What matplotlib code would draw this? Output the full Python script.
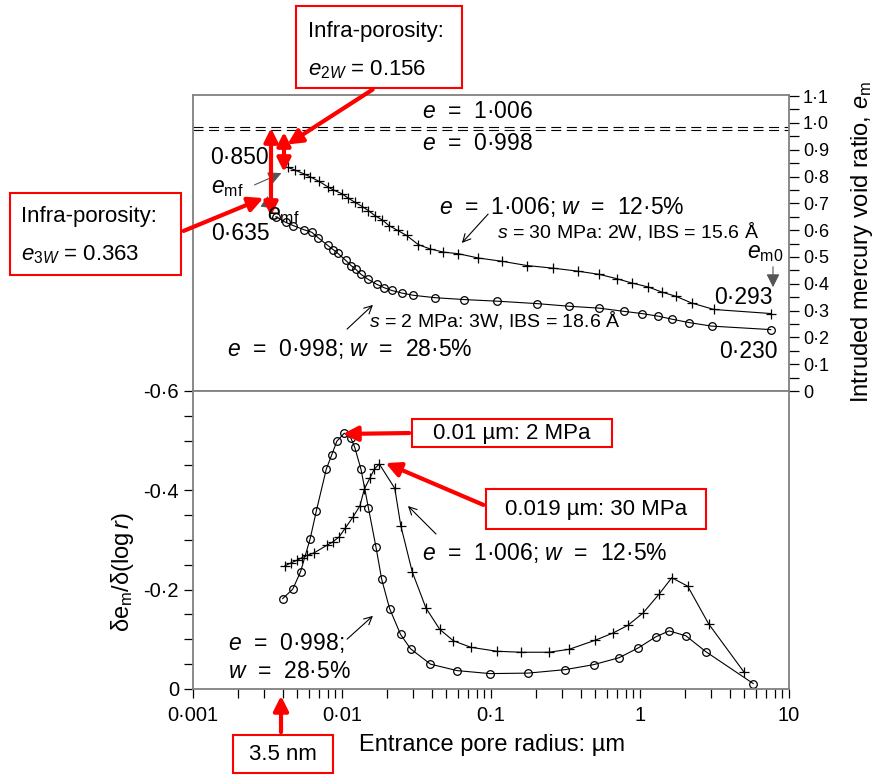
import matplotlib
matplotlib.use('Agg')
import matplotlib.pyplot as plt
from matplotlib.ticker import FixedLocator, FixedFormatter, LogLocator, NullFormatter, MultipleLocator
from matplotlib.patches import Rectangle

plt.rcParams['font.family'] = ['Liberation Sans', 'DejaVu Sans']
plt.rcParams['mathtext.fontset'] = 'custom'
plt.rcParams['mathtext.rm'] = 'Liberation Sans'
plt.rcParams['mathtext.it'] = 'Liberation Sans:italic'

# ---- data ----
# top panel: intruded mercury void ratio
r_30mpa = [0.00433, 0.00484, 0.00559, 0.00610, 0.00701, 0.00801, 0.00874, 0.01005, 0.01102,
           0.01222, 0.01368, 0.01502, 0.01665, 0.01862, 0.02065, 0.02363, 0.02716, 0.0325,
           0.039, 0.0479, 0.0604, 0.0822, 0.118, 0.174, 0.262, 0.382, 0.533, 0.697, 0.879,
           1.137, 1.40, 1.746, 2.225, 3.14, 7.54]
em_30mpa = [0.834, 0.824, 0.809, 0.799, 0.782, 0.762, 0.750, 0.735, 0.719, 0.704, 0.688,
            0.673, 0.654, 0.638, 0.617, 0.599, 0.580, 0.546, 0.530, 0.518, 0.512, 0.496,
            0.484, 0.468, 0.458, 0.447, 0.435, 0.419, 0.403, 0.388, 0.369, 0.353, 0.328,
            0.304, 0.289]
r_2mpa = [0.0036, 0.00419, 0.00471, 0.00559, 0.00627, 0.00694, 0.00802, 0.00874, 0.00936,
          0.0106, 0.01149, 0.01236, 0.01342, 0.01502, 0.0171, 0.01923, 0.02154, 0.02539,
          0.03009, 0.0421, 0.0662, 0.110, 0.203, 0.336, 0.533, 0.781, 1.026, 1.327, 1.633,
          2.145, 3.03, 7.54]
em_2mpa = [0.650, 0.629, 0.617, 0.601, 0.592, 0.571, 0.543, 0.527, 0.514, 0.487, 0.468,
           0.454, 0.435, 0.416, 0.398, 0.385, 0.375, 0.365, 0.357, 0.348, 0.341, 0.335,
           0.326, 0.316, 0.309, 0.297, 0.289, 0.279, 0.268, 0.255, 0.242, 0.229]
e_hi_line = 0.985   # drawn for e = 1.006
e_lo_line = 0.974   # drawn for e = 0.998

# bottom panel: pore size density
rd_2mpa = [0.0040, 0.00467, 0.00527, 0.00612, 0.00673, 0.00785, 0.00852, 0.00924, 0.01035,
           0.01148, 0.01216, 0.01342, 0.01503, 0.01692, 0.01846, 0.02086, 0.02471, 0.02884,
           0.03926, 0.0593, 0.0986, 0.178, 0.315, 0.488, 0.724, 0.977, 1.276, 1.570, 2.035,
           2.77, 5.75]
d_2mpa = [-0.182, -0.201, -0.236, -0.303, -0.359, -0.443, -0.471, -0.499, -0.515, -0.505,
          -0.487, -0.442, -0.365, -0.285, -0.221, -0.162, -0.110, -0.081, -0.050, -0.037,
          -0.031, -0.032, -0.039, -0.049, -0.063, -0.083, -0.105, -0.117, -0.107, -0.075,
          -0.011]
rd_30mpa = [0.00414, 0.00455, 0.00497, 0.00535, 0.00583, 0.00648, 0.00789, 0.00866, 0.00955,
            0.01052, 0.0119, 0.0132, 0.0141, 0.0154, 0.0165, 0.0178, 0.0226, 0.0248, 0.0296,
            0.0366, 0.0453, 0.0560, 0.0731, 0.1096, 0.159, 0.245, 0.335, 0.499, 0.662, 0.827,
            1.048, 1.343, 1.634, 2.09, 2.89, 4.99]
d_30mpa = [-0.248, -0.254, -0.259, -0.264, -0.269, -0.274, -0.289, -0.296, -0.306, -0.324,
           -0.347, -0.369, -0.402, -0.425, -0.443, -0.453, -0.404, -0.329, -0.236, -0.163,
           -0.120, -0.097, -0.084, -0.076, -0.074, -0.074, -0.080, -0.098, -0.113, -0.128,
           -0.153, -0.191, -0.224, -0.207, -0.131, -0.034]

x_ticks = [0.001, 0.01, 0.1, 1, 10]
x_labels = ['0·001', '0·01', '0·1', '1', '10']
top_ticks = [i / 10 for i in range(12)]
top_labels = ['0'] + ['0·%d' % i for i in range(1, 10)] + ['1·0', '1·1']
bot_ticks = [-0.6, -0.4, -0.2, 0]
bot_labels = ['-0·6', '-0·4', '-0·2', '0']

W, H = 880, 778
fig = plt.figure(figsize=(W / 100, H / 100), dpi=100)


def fp(x, y):
    # figure pixel (from top-left) -> figure fraction
    return (x / W, 1 - y / H)


spine_col = '#808080'
ax1 = fig.add_axes([193 / W, 1 - 391 / H, 596 / W, 296 / H])
ax2 = fig.add_axes([193 / W, 1 - 689 / H, 596 / W, 298 / H])

for ax in (ax1, ax2):
    ax.set_xscale('log')
    ax.set_xlim(0.001, 10)
    for s in ax.spines.values():
        s.set_color(spine_col)
        s.set_linewidth(1.3)

line_kw = dict(color='k', lw=0.8)
ax1.plot(r_30mpa, em_30mpa, marker='+', ms=7, mew=0.9, **line_kw)
ax1.plot(r_2mpa, em_2mpa, marker='o', ms=5.5, mfc='none', mec='k', mew=0.9, **line_kw)
ax1.axhline(e_hi_line, color='k', lw=0.8, ls=(0, (9, 5)))
ax1.axhline(e_lo_line, color='k', lw=0.8, ls=(0, (9, 5)))
ax1.set_ylim(0, 1.104)
ax1.set_xticks([])
ax1.minorticks_off()
ax1.tick_params(axis='x', which='both', bottom=False, labelbottom=False)
ax1.yaxis.tick_right()
ax1.yaxis.set_major_locator(FixedLocator(top_ticks))
ax1.yaxis.set_major_formatter(FixedFormatter(top_labels))
ax1.yaxis.set_minor_locator(MultipleLocator(0.05))
ax1.tick_params(axis='y', which='major', length=7, width=0.9, labelsize=13, pad=3)
ax1.tick_params(axis='y', which='minor', length=7, width=0.9)

ax2.plot(rd_30mpa, d_30mpa, marker='+', ms=7, mew=0.9, **line_kw)
ax2.plot(rd_2mpa, d_2mpa, marker='o', ms=5.5, mfc='none', mec='k', mew=0.9, **line_kw)
ax2.set_ylim(0, -0.6)
ax2.xaxis.set_major_locator(FixedLocator(x_ticks))
ax2.xaxis.set_major_formatter(FixedFormatter(x_labels))
ax2.xaxis.set_minor_locator(LogLocator(base=10, subs=range(2, 10)))
ax2.xaxis.set_minor_formatter(NullFormatter())
ax2.yaxis.set_major_locator(FixedLocator(bot_ticks))
ax2.yaxis.set_major_formatter(FixedFormatter(bot_labels))
ax2.yaxis.set_minor_locator(MultipleLocator(0.05))
ax2.tick_params(axis='both', which='both', length=6.5, width=0.9, labelsize=14.5)
ax2.tick_params(axis='x', pad=6)

# axis titles
fig.text(*fp(492, 745), 'Entrance pore radius: µm', ha='center', va='center', fontsize=17)
fig.text(*fp(862, 242), 'Intruded mercury void ratio, $e_{\\mathrm{m}}$', ha='center',
         va='center', rotation=90, fontsize=17)
fig.text(*fp(122, 572), 'δe$_{\\mathrm{m}}$/δ(log$\\,r$)', ha='center', va='center',
         rotation=90, fontsize=17)

# ---- black labels ----
big, small = 16.5, 14


def lab(x, y, s, size=big, ha='center', **kw):
    fig.text(*fp(x, y), s, ha=ha, va='center', fontsize=size, **kw)


def thin_arrow(ax, x0, y0, x1, y1, col='k'):
    ax.annotate('', xy=fp(x1, y1), xycoords='figure fraction', xytext=fp(x0, y0),
                textcoords='figure fraction', annotation_clip=False,
                arrowprops=dict(arrowstyle='->', color=col, lw=0.8, mutation_scale=14))


lab(478, 112, '$e$  =  1·006')
lab(478, 143, '$e$  =  0·998')
lab(239, 157, '0·850')
lab(211, 187, '$e_{\\mathrm{mf}}$', ha='left')
lab(267, 214, '$e_{\\mathrm{mf}}$', ha='left')
lab(240, 233, '0·635')
lab(562, 207, '$e$  =  1·006; $w$  =  12·5%')
lab(628, 231, '$s$ = 30 MPa: 2W, IBS = 15.6 Å', size=small)
lab(495, 320, '$s$ = 2 MPa: 3W, IBS = 18.6 Å', size=small)
lab(350, 349, '$e$  =  0·998; $w$  =  28·5%')
lab(765, 253, '$e_{\\mathrm{m0}}$')
lab(743, 298, '0·293')
lab(748, 351, '0·230')
thin_arrow(ax1, 490, 212, 460, 245)
thin_arrow(ax1, 345, 331, 375, 303)

for (x0, y0, x1, y1) in [(252, 186, 284, 172), (262, 200, 277, 210), (773, 264, 773, 290)]:
    ax1.annotate('', xy=fp(x1, y1), xycoords='figure fraction', xytext=fp(x0, y0),
                 textcoords='figure fraction', annotation_clip=False,
                 arrowprops=dict(arrowstyle='-|>', color='#555555', lw=0.8,
                                 mutation_scale=20))

lab(545, 553, '$e$  =  1·006; $w$  =  12·5%')
lab(228, 643, '$e$  =  0·998;', ha='left')
lab(228, 672, '$w$  =  28·5%', ha='left')
thin_arrow(ax2, 438, 536, 406, 504)
thin_arrow(ax2, 345, 641, 375, 614)

# ---- red call-outs ----
red_arrow = dict(arrowstyle='-|>', color='red', lw=3, mutation_scale=22)
red_dbl = dict(arrowstyle='<|-|>', color='red', lw=3, mutation_scale=20, shrinkA=0, shrinkB=0)


def red_box(x0, y0, x1, y1):
    fig.add_artist(Rectangle(fp(x0, y1), (x1 - x0) / W, (y1 - y0) / H,
                             transform=fig.transFigure, fc='white', ec='red', lw=1.5,
                             zorder=5))


def red_line(ax, x0, y0, x1, y1, props=red_arrow):
    ax.annotate('', xy=fp(x1, y1), xycoords='figure fraction', xytext=fp(x0, y0),
                textcoords='figure fraction', annotation_clip=False, arrowprops=props,
                zorder=6)


def box_text(x, y, s, ha='left'):
    fig.text(*fp(x, y), s, ha=ha, va='center', fontsize=16, zorder=7)


red_box(296, 6, 462, 88)
box_text(308, 31, 'Infra-porosity:')
box_text(308, 70, '$e_{\\mathit{2W}}$ = 0.156')
red_line(ax1, 375, 88, 285, 146)

red_box(10, 193, 181, 275)
box_text(21, 216, 'Infra-porosity:')
box_text(21, 255, '$e_{\\mathit{3W}}$ = 0.363')
red_line(ax1, 181, 232, 266, 197)

red_line(ax1, 271, 128, 271, 216, red_dbl)
red_line(ax1, 284, 132, 284, 172, red_dbl)

red_box(412, 419, 612, 447)
box_text(512, 433, '0.01 µm: 2 MPa', ha='center')
red_line(ax2, 412, 433, 340, 434)

red_box(486, 489, 706, 529)
box_text(596, 509, '0.019 µm: 30 MPa', ha='center')
red_line(ax2, 486, 506, 383, 462)

red_box(233, 735, 333, 773)
box_text(283, 755, '3.5 nm', ha='center')
red_line(ax2, 281, 735, 281, 693)

fig.savefig('out.png', dpi=100)
